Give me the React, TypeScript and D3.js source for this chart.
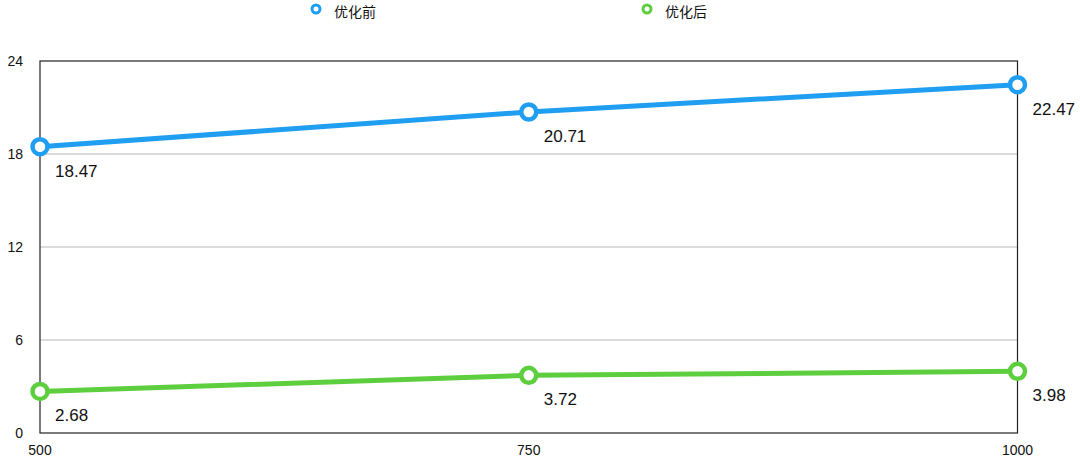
import React, { useRef, useEffect } from 'react';
import * as d3 from 'd3';

const xValues = [500, 750, 1000];
const before = [18.47, 20.71, 22.47];
const after = [2.68, 3.72, 3.98];
const yTicks = [0, 6, 12, 18, 24];
const seriesNames = ['优化前', '优化后'];
const colors = ['#1f9ef2', '#5dcf3f'];

export default function App() {
  const svgRef = useRef<SVGSVGElement>(null);

  useEffect(() => {
    const width = 1080;
    const height = 457;
    const svg = d3.select(svgRef.current);
    svg.selectAll('*').remove();
    svg.attr('width', width).attr('height', height);

    const left = 40, right = 1017.5, top = 61, bottom = 433;
    const font = '"Liberation Sans", Arial, sans-serif';
    const cjk = '"Noto Sans CJK SC", "Liberation Sans", sans-serif';

    const x = d3.scaleLinear().domain([500, 1000]).range([left, right]);
    const y = d3.scaleLinear().domain([0, 24]).range([bottom, top]);

    svg.append('rect').attr('width', width).attr('height', height).attr('fill', '#fff');

    // grid lines
    svg.append('g')
      .selectAll('line')
      .data(yTicks.filter(t => t > 0 && t < 24))
      .enter()
      .append('line')
      .attr('x1', left).attr('x2', right)
      .attr('y1', d => y(d)).attr('y2', d => y(d))
      .attr('stroke', '#b8b8b8').attr('stroke-width', 1);

    // frame
    svg.append('rect')
      .attr('x', left).attr('y', top)
      .attr('width', right - left).attr('height', bottom - top)
      .attr('fill', 'none').attr('stroke', '#222').attr('stroke-width', 1.2);

    // y tick labels
    svg.append('g')
      .selectAll('text')
      .data(yTicks)
      .enter()
      .append('text')
      .attr('x', 23).attr('y', d => y(d))
      .attr('dy', '0.35em')
      .attr('text-anchor', 'end')
      .attr('font-family', font).attr('font-size', 14).attr('fill', '#111')
      .text(d => d);

    // x tick labels
    svg.append('g')
      .selectAll('text')
      .data(xValues)
      .enter()
      .append('text')
      .attr('x', d => x(d)).attr('y', 450)
      .attr('dy', '0.35em')
      .attr('text-anchor', 'middle')
      .attr('font-family', font).attr('font-size', 14).attr('fill', '#111')
      .text(d => d);

    const series = [before, after];
    const line = d3.line<number>()
      .x((_, i) => x(xValues[i]))
      .y(d => y(d));

    series.forEach((vals, si) => {
      const g = svg.append('g');
      g.append('path')
        .datum(vals)
        .attr('d', line)
        .attr('fill', 'none')
        .attr('stroke', colors[si])
        .attr('stroke-width', 5);
      g.selectAll('circle')
        .data(vals)
        .enter()
        .append('circle')
        .attr('cx', (_, i) => x(xValues[i]))
        .attr('cy', d => y(d))
        .attr('r', 7.5)
        .attr('fill', '#fff')
        .attr('stroke', colors[si])
        .attr('stroke-width', 4.5);
      g.selectAll('text')
        .data(vals)
        .enter()
        .append('text')
        .attr('x', (_, i) => x(xValues[i]) + 15)
        .attr('y', d => y(d) + 24)
        .attr('dy', '0.35em')
        .attr('font-family', font).attr('font-size', 17).attr('fill', '#111')
        .text(d => d.toFixed(2));
    });

    // legend
    const legendX = [316, 647];
    seriesNames.forEach((name, i) => {
      svg.append('circle')
        .attr('cx', legendX[i]).attr('cy', 9)
        .attr('r', 4)
        .attr('fill', '#fff')
        .attr('stroke', colors[i]).attr('stroke-width', 3);
      svg.append('text')
        .attr('x', legendX[i] + 18).attr('y', 16.5)
        .attr('font-family', cjk).attr('font-size', 14).attr('fill', '#111')
        .text(name);
    });
  }, []);

  return (
    <div style={{ position: 'absolute', left: 0, top: 0 }}>
      <svg ref={svgRef} style={{ display: 'block' }} />
    </div>
  );
}
